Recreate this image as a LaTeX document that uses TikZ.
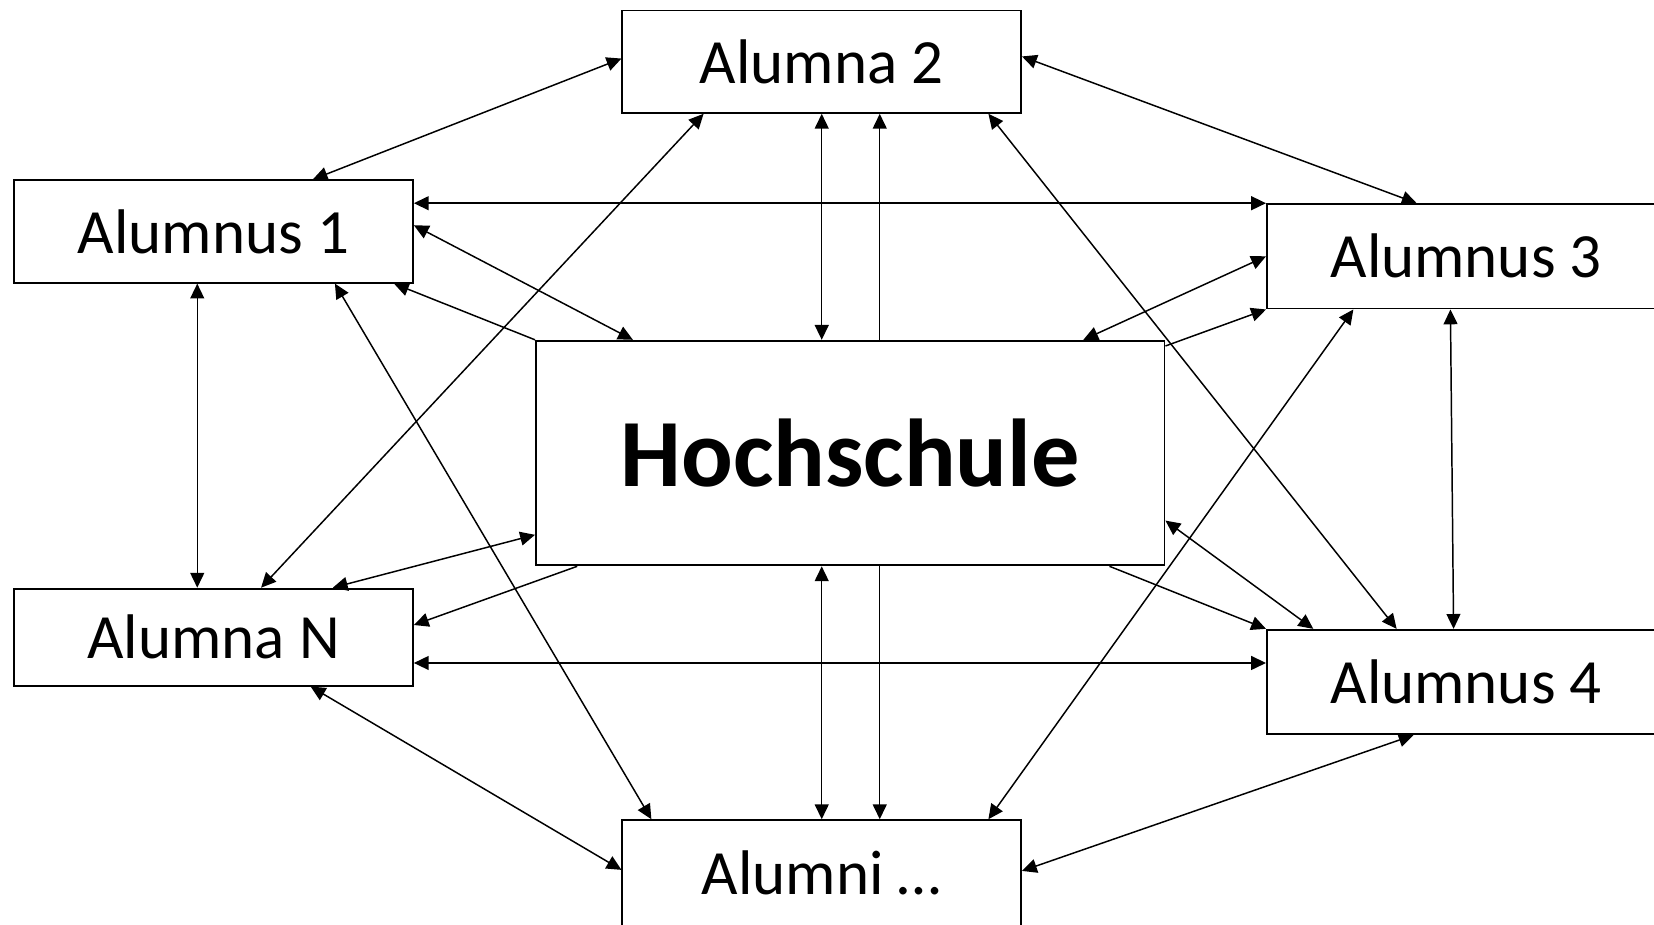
\documentclass[tikz,border=0pt]{standalone}
\usepackage{fontspec}
\setmainfont{Carlito}
\usetikzlibrary{arrows.meta,calc}
\tikzset{
  alumbox/.style={draw,line width=1pt,minimum width=7.56cm,inner sep=0pt,
    font=\fontsize{34pt}{40pt}\selectfont},
  hsbox/.style={draw,line width=1pt,minimum width=11.92cm,minimum height=4.26cm,
    inner sep=0pt,font=\fontsize{52pt}{60pt}\selectfont\bfseries},
  biarrow/.style={line width=0.8pt,{Triangle[length=8pt,width=7.5pt]}-{Triangle[length=8pt,width=7.5pt]}},
  onearrow/.style={line width=0.8pt,-{Triangle[length=8pt,width=7.5pt]}}
}
\begin{document}
\begin{tikzpicture}[x=0.02cm,y=-0.02cm]
\useasboundingbox (0,0) rectangle (1568,876);
\clip (0,0) rectangle (1568,876);
% boxes
\node[alumbox,minimum height=1.94cm] (A2) at (779,58.5) {Alumna 2};
\node[alumbox,minimum height=1.94cm] (A1) at (202.5,219.5) {Alumnus 1};
\node[alumbox,minimum height=1.98cm] (A3) at (1390,243) {Alumnus 3};
\node[alumbox,minimum height=1.98cm] (A4) at (1390,646.5) {Alumnus 4};
\node[alumbox,minimum height=1.84cm] (AN) at (202.5,604) {Alumna N};
\node[alumbox,minimum height=2.1cm,text depth=0pt] (AL) at (779,830) {\raisebox{3.2pt}{Alumni …}};
\node[hsbox] (H) at (806,429.5) {Hochschule};
% connectors
\draw[biarrow] ($(A2.west)+(0,-3)$) -- ($(A1.north)+(94,0)$);
\draw[biarrow] ($(A2.east)+(0,-5)$) -- ($(A3.north)+(-47,0)$);
\draw[biarrow] (A1.east |- A3.north west) -- (A3.north west);
\draw[biarrow] ($(A1.east)+(0,-6)$) -- ($(H.north)+(-206,0)$);
\draw[onearrow] (H.north west) -- ($(A1.south)+(171,0)$);
\draw[biarrow] ($(A1.south)+(-15.5,0)$) -- ($(AN.north)+(-15.5,0)$);
\draw[biarrow] ($(A1.south)+(115,0)$) -- ($(AL.north)+(-161.5,0)$);
\draw[biarrow] ($(A2.south)+(-112,0)$) -- ($(AN.north)+(45,0)$);
\draw[biarrow] (A2.south) -- (A2.south |- H.north);
\draw[onearrow] ($(H.north)+(28,0)$) -- ($(A2.south)+(55,0)$);
\draw[biarrow] ($(A2.south)+(158,0)$) -- ($(A4.north)+(-66,0)$);
\draw[biarrow] (A3.west) -- ($(H.north)+(221,0)$);
\draw[onearrow] ($(H.east)+(0,-101.5)$) -- (A3.south west);
\draw[biarrow] ($(A3.south)+(-107,0)$) -- ($(AL.north)+(158,0)$);
\draw[biarrow] ($(A3.south)+(-15,0)$) -- ($(A4.north)+(-12,0)$);
\draw[biarrow] ($(H.east)+(0,64)$) -- ($(A4.north)+(-145,0)$);
\draw[onearrow] ($(H.south east)+(-53,0)$) -- (A4.north west);
\draw[biarrow] ($(AN.east)+(0,24.5)$) -- ($(A4.west)+(0,-18)$);
\draw[biarrow] ($(AN.north)+(113,0)$) -- ($(H.west)+(0,77.5)$);
\draw[onearrow] ($(H.south west)+(40,0)$) -- ($(AN.east)+(0,-11.5)$);
\draw[biarrow] ($(AN.south)+(92,0)$) -- ($(AL.north west)+(0,48)$);
\draw[biarrow] (AL.north) -- (AL.north |- H.south);
\draw[onearrow] ($(H.south)+(28,0)$) -- ($(AL.north)+(55,0)$);
\draw[biarrow] ($(A4.south)+(-50,0)$) -- ($(AL.north east)+(0,49)$);
\end{tikzpicture}
\end{document}
